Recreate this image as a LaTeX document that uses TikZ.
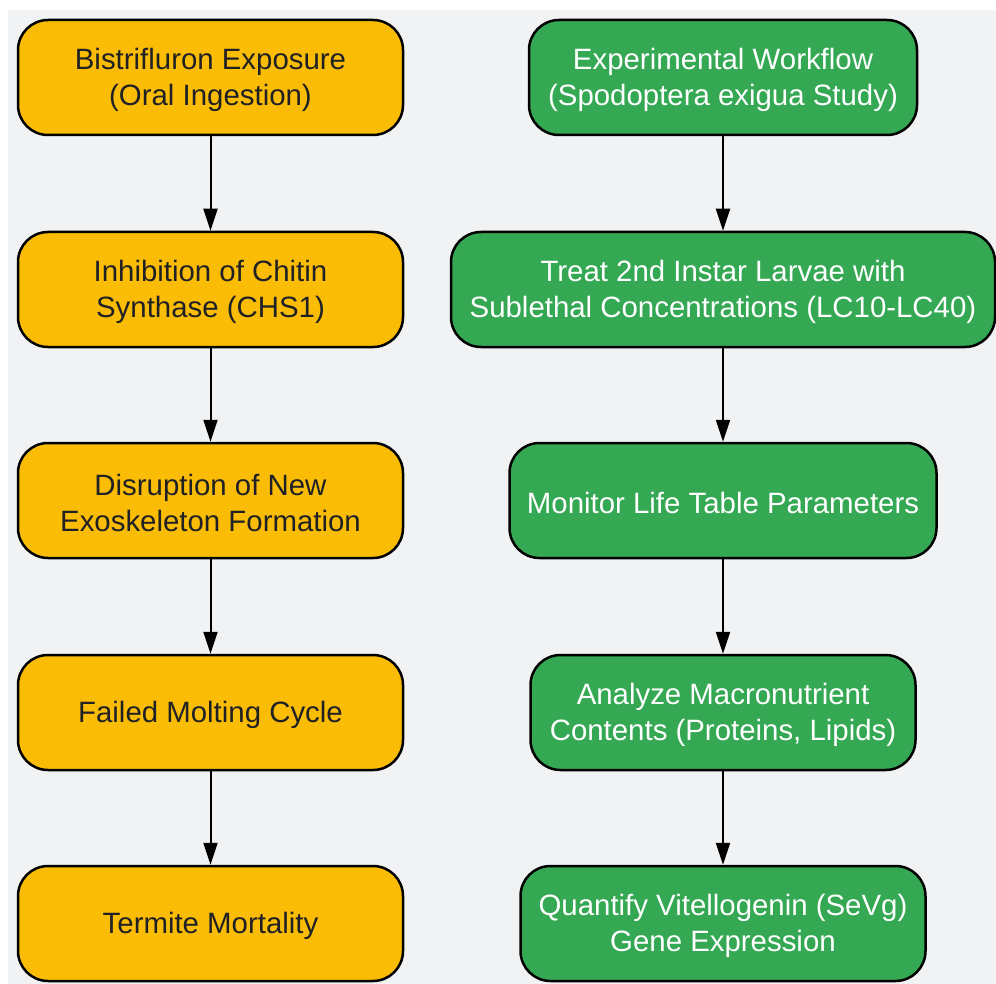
\documentclass[tikz,border=0pt]{standalone}
\usepackage{fontspec}
\setmainfont{Liberation Sans}
\usetikzlibrary{arrows.meta}
\definecolor{bgc}{HTML}{F1F2F4}
\definecolor{orng}{HTML}{FBBC05}
\definecolor{grn}{HTML}{34A853}
\definecolor{dtext}{HTML}{202124}
\begin{document}
\begin{tikzpicture}[x=1pt,y=-1pt,
  box/.style={draw=black, line width=2.5pt, rounded corners=30pt, minimum height=115pt, inner sep=0pt},
  obox/.style={box, fill=orng, minimum width=385pt},
  gbox/.style={box, fill=grn},
  txt/.style={align=center, inner sep=0pt, font=\fontsize{29.4}{36}\selectfont},
  otxt/.style={txt, text=dtext},
  gtxt/.style={txt, text=white},
  arr/.style={draw=black, line width=2pt, -{Triangle[length=22pt,width=14pt]}}]
\useasboundingbox (0,0) rectangle (996,984);
\fill[white] (0,0) rectangle (996,984);
\fill[bgc] (8,10) rectangle (996,984);
\node[obox] (l1) at (210.5,77.5) {};
\node[obox] (l2) at (210.5,289.5) {};
\node[obox] (l3) at (210.5,500.5) {};
\node[obox] (l4) at (210.5,712.5) {};
\node[obox] (l5) at (210.5,923.5) {};
\node[gbox, minimum width=388pt] (r1) at (723,77.5) {};
\node[gbox, minimum width=544pt] (r2) at (723,289.5) {};
\node[gbox, minimum width=427pt] (r3) at (723,500.5) {};
\node[gbox, minimum width=385pt] (r4) at (723,712.5) {};
\node[gbox, minimum width=405pt] (r5) at (723,923.5) {};
\node[otxt] (l1t) at ([yshift=-2.5pt]l1.center) {Bistrifluron Exposure\\(Oral Ingestion)};
\node[otxt] (l2t) at ([yshift=-2.5pt]l2.center) {Inhibition of Chitin\\Synthase (CHS1)};
\node[otxt] (l3t) at ([yshift=-2.5pt]l3.center) {Disruption of New\\Exoskeleton Formation};
\node[otxt] (l4t) at ([yshift=-2.5pt]l4.center) {Failed Molting Cycle};
\node[otxt] (l5t) at ([yshift=-2.5pt]l5.center) {Termite Mortality};
\node[gtxt] (r1t) at ([yshift=-2.5pt]r1.center) {Experimental Workflow\\(Spodoptera exigua Study)};
\node[gtxt] (r2t) at ([yshift=-2.5pt]r2.center) {Treat 2nd Instar Larvae with\\Sublethal Concentrations (LC10-LC40)};
\node[gtxt] (r3t) at ([yshift=-2.5pt]r3.center) {Monitor Life Table Parameters};
\node[gtxt] (r4t) at ([yshift=-2.5pt]r4.center) {Analyze Macronutrient\\Contents (Proteins, Lipids)};
\node[gtxt] (r5t) at ([yshift=-2.5pt]r5.center) {Quantify Vitellogenin (SeVg)\\Gene Expression};
\foreach \a/\b in {l1/l2,l2/l3,l3/l4,l4/l5,r1/r2,r2/r3,r3/r4,r4/r5}
  \draw[arr] (\a) -- (\b);
\end{tikzpicture}
\end{document}
